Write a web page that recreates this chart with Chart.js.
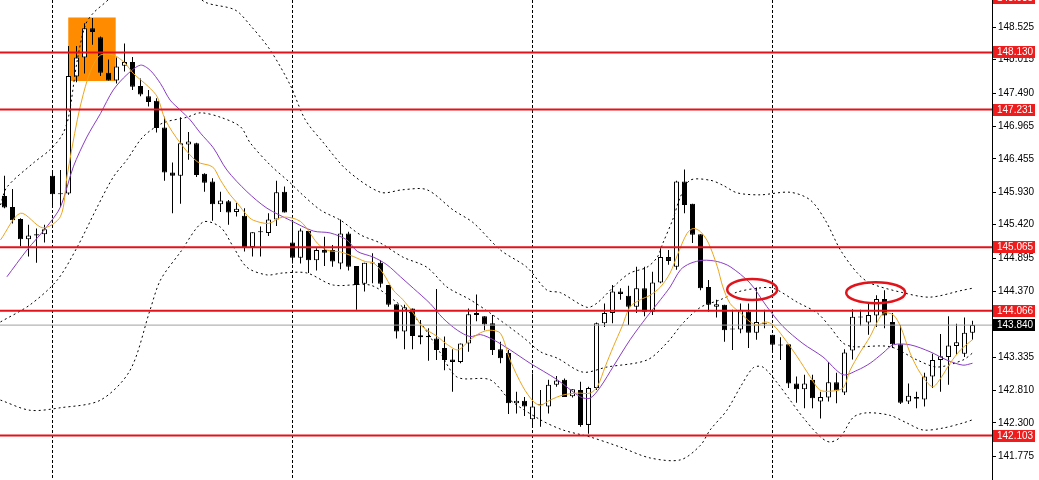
<!DOCTYPE html>
<html>
<head>
<meta charset="utf-8">
<script src="https://cdn.jsdelivr.net/npm/chart.js@4.4.1/dist/chart.umd.min.js"></script>
<style>
  html, body { margin: 0; padding: 0; background: #fff; }
  canvas { display: block; }
</style>
</head>
<body>
<canvas id="c" width="1039" height="480"></canvas>
<script>
// candles (oldest first)
const opens = [145.87,145.70,145.51,145.19,145.27,145.27,146.19,145.91,145.91,147.75,
  148.05,148.51,148.37,147.81,147.69,147.92,147.98,147.60,147.44,147.37,
  146.95,146.24,146.19,146.68,146.70,146.22,146.10,145.74,145.79,145.62,
  145.56,145.07,145.30,145.29,145.50,145.94,145.14,144.90,145.32,144.86,
  145.02,145.02,144.81,145.28,144.77,144.49,144.82,144.82,144.47,144.17,
  143.74,144.10,143.68,143.67,143.63,143.48,143.30,143.26,143.55,144.03,
  143.98,143.87,143.46,143.40,142.61,142.65,142.36,142.58,142.56,142.90,
  142.98,142.72,142.82,142.27,142.85,143.87,144.03,144.37,144.30,144.13,
  144.42,144.05,144.51,144.91,144.76,146.10,145.75,145.27,144.44,144.13,
  144.16,143.78,143.77,144.05,143.72,143.86,143.69,143.53,143.54,142.92,
  142.83,142.98,142.64,142.70,142.94,142.78,143.44,143.97,143.88,143.99,
  144.25,143.89,143.54,142.64,142.71,142.67,143.03,143.29,143.34,143.51,
  143.39,143.72];
const highs = [146.19,145.98,145.52,145.42,145.36,145.42,146.28,146.28,148.23,148.23,
  148.59,148.67,148.38,148.02,148.05,148.27,148.06,147.72,147.54,147.41,
  147.12,146.40,147.11,146.88,146.71,146.23,146.15,145.94,145.81,145.76,
  145.68,145.30,145.39,145.60,146.11,146.02,145.47,145.36,145.32,145.05,
  145.23,145.10,145.50,145.31,144.77,144.82,144.97,144.86,144.47,144.17,
  144.16,144.10,143.92,143.79,144.41,143.66,143.46,143.55,144.10,144.32,
  143.98,144.00,143.58,143.45,142.79,142.71,143.08,142.82,142.98,143.04,
  143.00,142.83,142.95,142.87,143.88,144.18,144.47,144.42,144.46,144.76,
  144.76,144.68,145.05,145.02,146.11,146.29,145.75,145.27,144.55,144.24,
  144.16,144.08,144.18,144.18,144.43,144.08,143.69,143.65,143.54,143.03,
  143.06,143.06,142.79,143.26,143.09,143.46,144.09,144.08,144.18,144.31,
  144.39,144.03,143.84,142.92,142.79,143.09,143.39,143.70,143.98,143.86,
  143.96,143.91];
const lows = [145.68,145.44,145.08,144.92,144.82,145.14,145.70,145.70,145.89,147.66,
  147.80,148.25,147.76,147.69,147.64,147.83,147.54,147.44,147.28,146.87,
  146.11,145.60,145.75,146.44,146.17,145.94,145.48,145.62,145.42,145.55,
  145.00,144.92,144.92,145.24,145.40,145.61,144.81,144.81,144.66,144.70,
  144.77,144.76,144.72,144.70,144.08,144.37,144.50,144.43,144.13,143.63,
  143.46,143.46,143.54,143.28,143.29,143.13,142.79,143.24,143.42,143.90,
  143.76,143.37,143.24,142.44,142.45,142.41,142.22,142.24,142.45,142.87,
  142.71,142.70,142.24,142.13,142.82,143.81,143.87,144.24,143.84,144.03,
  143.98,144.00,144.50,144.79,144.71,145.60,145.13,144.39,144.05,143.96,
  143.58,143.45,143.71,143.48,143.61,143.79,143.45,143.29,142.85,142.62,
  142.53,142.53,142.37,142.64,142.61,142.74,143.30,143.83,143.69,143.81,
  143.79,143.48,142.60,142.60,142.53,142.56,142.85,142.79,142.90,143.37,
  143.34,143.61];
const closes = [145.69,145.49,145.19,145.25,145.25,145.35,145.90,145.90,147.76,148.05,
  148.51,148.45,147.81,147.69,147.91,147.98,147.59,147.47,147.35,146.94,
  146.24,146.19,146.70,146.73,146.20,146.08,145.74,145.80,145.61,145.67,
  145.07,145.30,145.31,145.50,145.93,145.61,144.90,145.33,144.86,145.02,
  144.98,144.84,145.28,144.76,144.47,144.82,144.81,144.49,144.16,143.74,
  144.12,143.67,143.65,143.65,143.45,143.29,143.26,143.55,144.01,144.00,
  143.85,143.45,143.32,142.61,142.65,142.56,142.56,142.59,142.90,142.97,
  142.71,142.83,142.27,142.85,143.87,144.03,144.37,144.33,144.13,144.42,
  144.05,144.51,144.91,144.85,146.10,145.73,145.26,144.42,144.16,144.17,
  143.76,143.77,144.08,143.72,143.89,143.87,143.53,143.52,142.92,142.83,
  142.92,142.69,142.71,142.94,142.81,143.41,143.97,143.96,144.00,144.25,
  143.99,143.54,142.62,142.73,142.68,143.03,143.29,143.35,143.52,143.57,
  143.72,143.84];

// indicator lines, [bar index, price]
const fastMA = [[-0.5,145.18],[2,145.60],[4.8,145.37],[7,145.55],[7.8,146.17],[9.1,147.07],[10.1,147.59],[11,147.91],[12,148.09],[13.6,148.09],[15,147.97],[16.1,147.80],[18,147.59],[19.1,147.43],[20.1,147.07],[22,146.70],[24.1,146.41],[26,146.33],[27,146.12],[28.2,145.89],[29.1,145.76],[30.3,145.57],[31.1,145.49],[33,145.44],[34.8,145.54],[37,145.47],[39.1,145.13],[40.3,145.02],[42,144.99],[43.6,144.92],[45.1,144.84],[46.1,144.82],[47.3,144.66],[48.6,144.39],[49.8,144.24],[51.1,144.03],[52.2,143.82],[54.1,143.66],[55.4,143.53],[56.7,143.45],[58.2,143.61],[59.5,143.72],[60.7,143.76],[62,143.71],[63.2,143.29],[64.8,142.87],[66.1,142.64],[67,142.58],[68.2,142.66],[69.8,142.74],[71.6,142.77],[73.2,142.77],[74.1,142.87],[75.1,143.19],[76.1,143.50],[77.2,143.82],[78.2,144.13],[79.5,144.24],[80.7,144.31],[82,144.44],[83.2,144.66],[84.2,144.97],[85.3,145.28],[86.1,145.36],[87,145.31],[88,145.13],[89.1,144.76],[89.8,144.44],[90.7,144.18],[92,144.03],[93.2,143.89],[94.1,143.84],[95.1,143.89],[96.1,143.84],[97.3,143.66],[99.1,143.34],[100.7,143.03],[101.9,142.82],[103.2,142.80],[104.8,142.85],[105.7,143.13],[106.9,143.40],[108.2,143.66],[109.1,143.89],[109.9,144.03],[111.1,144.00],[112,143.82],[113.2,143.40],[114.5,143.08],[116,142.87],[117,143.00],[118.2,143.24],[119.5,143.45],[121,143.61]];
const slowMA = [[0.3,144.60],[2.8,145.02],[5.3,145.39],[7,145.70],[8.6,146.33],[10.3,146.80],[12,147.17],[13.6,147.54],[15.3,147.78],[17,147.93],[18.2,147.85],[19.5,147.64],[20.7,147.38],[22,147.22],[23.2,147.07],[24.5,146.86],[26.1,146.63],[27.8,146.28],[30.3,145.94],[32.8,145.68],[35.7,145.49],[38.6,145.32],[40.7,145.29],[42.8,145.18],[44.1,145.00],[46.1,144.91],[47.8,144.79],[49.5,144.60],[51.1,144.42],[53.2,144.18],[54.8,143.95],[56.6,143.76],[58.2,143.66],[59.5,143.69],[61.1,143.61],[63.2,143.45],[65.7,143.24],[69.1,142.98],[72,142.71],[73.2,142.69],[74.5,142.87],[76.1,143.19],[78.2,143.61],[80.3,143.97],[82,144.24],[83.2,144.44],[84.5,144.71],[85.7,144.81],[87.3,144.86],[89.1,144.84],[90.7,144.76],[93.2,144.50],[95.3,144.13],[97.3,143.82],[99.8,143.55],[102.3,143.34],[104.8,143.06],[106.6,143.13],[108.2,143.24],[109.8,143.40],[111.1,143.53],[113.2,143.53],[115.7,143.42],[117.8,143.29],[119.8,143.21],[121,143.24]];
const bandUpper = [[-0.5,145.73],[0.3,146.01],[3.6,146.39],[5.7,146.60],[7.2,146.83],[8,147.11],[9.1,148.01],[10.1,148.56],[11.1,148.75],[13.2,148.99],[15.7,149.43],[19.5,149.58],[23.2,149.14],[25.1,148.92],[28.8,148.80],[30.7,148.56],[33.2,148.17],[35.7,147.62],[37.6,147.07],[39.8,146.72],[42.8,146.28],[47,145.93],[49.8,145.97],[52.8,145.97],[56.1,145.65],[58.6,145.45],[62,145.02],[65.3,144.75],[67.8,144.39],[69.5,144.35],[72.8,144.12],[74.1,144.19],[76.6,144.50],[78.2,144.66],[80.3,144.75],[81.6,144.91],[82.3,145.13],[83.5,145.49],[84.5,145.86],[85.7,146.12],[88.2,146.12],[89.8,146.04],[91.6,145.92],[94.5,145.89],[98.2,145.93],[100.7,145.81],[102.6,145.49],[104.5,145.02],[106.6,144.66],[108.2,144.50],[112.3,144.35],[115.7,144.28],[119.8,144.39],[121,144.42]];
const bandMid = [[-0.5,143.89],[3.2,144.16],[6.6,144.55],[9.1,145.07],[11.6,145.70],[13.6,146.17],[15.3,146.44],[17.3,146.80],[19.8,147.02],[22.8,147.11],[24.5,147.18],[27,147.11],[29.5,146.96],[30.7,146.71],[33.2,146.36],[35.7,146.08],[37,145.92],[39.5,145.65],[42,145.49],[44.5,145.26],[47,145.13],[49.8,144.91],[52.8,144.75],[55.3,144.44],[58.2,144.24],[60.7,144.03],[64.8,143.65],[67,143.42],[69.1,143.32],[72.3,143.10],[75.3,143.18],[80.3,143.29],[82.8,143.56],[84.8,143.87],[87,144.12],[89.5,144.24],[91.6,144.36],[94.1,144.42],[96.1,144.42],[99.1,144.20],[101.6,144.03],[103.2,143.81],[104.8,143.56],[106.1,143.50],[110.7,143.50],[114.1,143.29],[116.6,143.18],[119.8,143.29],[121,143.40]];
const bandLower = [[-0.5,142.66],[3.2,142.50],[7,142.54],[12,142.66],[15.7,143.13],[18.2,144.08],[19.5,144.55],[22,144.99],[24.8,145.46],[27,145.38],[28.6,145.07],[30.3,144.75],[32.8,144.63],[34.8,144.66],[37.8,144.66],[41.1,144.47],[45.7,144.47],[48.6,144.24],[52,143.87],[54.5,143.40],[56.6,143.02],[60.7,142.98],[63.2,142.66],[67,142.35],[69.8,142.19],[73.2,142.08],[77,141.92],[80.7,141.75],[84.5,141.72],[87,141.95],[88.2,142.19],[90.3,142.50],[92,142.87],[93.6,143.17],[94.8,143.18],[96.6,142.93],[98.2,142.66],[99.8,142.39],[102,142.08],[103.2,142.00],[104.5,142.08],[106.1,142.39],[107.8,142.46],[110.7,142.42],[112.8,142.30],[114.8,142.19],[117.3,142.22],[119.8,142.30],[121,142.35]];

const levels = [148.130, 147.231, 145.065, 144.066, 142.103];
const topLevel = 148.985;   // label cut off at the top edge
const lastPrice = 143.840;
const yTicks = [148.525,148.015,147.490,146.965,146.455,145.930,145.420,144.895,144.370,143.850,143.335,142.810,142.300,141.775];
const sepBars = [6, 36, 66, 96];
const zone = { from: 7.97, to: 13.9, low: 147.68, high: 148.68 };
const circled = [[93.46, 144.40], [108.9, 144.35]];

const X_MIN = -0.5625, X_MAX = 123.4375;
const Y_MIN = 141.403, Y_MAX = 148.955;

const idx = closes.map((_, i) => i);
const pts = arr => arr.map(p => ({ x: p[0], y: p[1] }));
const flat = v => [{ x: X_MIN, y: v }, { x: X_MAX, y: v }];

function lineDs(data, color, extra) {
  return Object.assign({
    type: 'line', data, borderColor: color, borderWidth: 1,
    pointRadius: 0, fill: false, tension: 0.3
  }, extra || {});
}

const datasets = [];
levels.forEach(v => datasets.push(lineDs(flat(v), '#e3131b', { borderWidth: 2, tension: 0, order: 1 })));
datasets.push(lineDs(flat(lastPrice), '#a0a0a0', { tension: 0, order: 2 }));
datasets.push(lineDs(pts(fastMA), '#eba51e', { order: 3 }));
datasets.push(lineDs(pts(slowMA), '#8a3cc4', { order: 3 }));
[bandUpper, bandMid, bandLower].forEach(b =>
  datasets.push(lineDs(pts(b), '#000', { borderDash: [2, 3], order: 4 })));
datasets.push({
  type: 'bar', order: 5, grouped: false,
  data: idx.map(i => ({ x: i, y: [opens[i], closes[i]] })),
  backgroundColor: idx.map(i => closes[i] >= opens[i] ? '#fff' : '#000'),
  borderColor: '#000', borderWidth: 1, borderSkipped: false,
  barThickness: 5, minBarLength: 1, inflateAmount: 0
});
datasets.push({
  type: 'bar', order: 6, grouped: false,
  data: idx.map(i => ({ x: i, y: [lows[i], highs[i]] })),
  backgroundColor: '#000', borderWidth: 0, barThickness: 1, inflateAmount: 0
});

const decor = {
  id: 'decor',
  beforeDatasetsDraw(chart) {
    const { ctx, scales: { x, y } } = chart;
    ctx.save();
    ctx.fillStyle = '#ff8c00';
    const x1 = x.getPixelForValue(zone.from), x2 = x.getPixelForValue(zone.to);
    const y1 = y.getPixelForValue(zone.high), y2 = y.getPixelForValue(zone.low);
    ctx.fillRect(x1, y1, x2 - x1, y2 - y1);
    ctx.restore();
  },
  afterDatasetsDraw(chart) {
    const { ctx, scales: { x, y } } = chart;
    ctx.save();
    ctx.strokeStyle = '#e3131b';
    ctx.lineWidth = 2.5;
    const radii = [[25, 10.5], [29.5, 10.5]];
    circled.forEach((c, k) => {
      ctx.beginPath();
      ctx.ellipse(x.getPixelForValue(c[0]), y.getPixelForValue(c[1]), radii[k][0], radii[k][1], 0, 0, Math.PI * 2);
      ctx.stroke();
    });
    ctx.restore();
  },
  afterDraw(chart) {
    const { ctx, scales: { y }, chartArea } = chart;
    const left = chartArea.right + 1;
    ctx.save();
    ctx.font = '10px "Liberation Sans"';
    ctx.textBaseline = 'middle';
    const tag = (v, bg) => {
      const py = Math.round(y.getPixelForValue(v));
      ctx.fillStyle = bg;
      ctx.fillRect(left, py - 6, 42, 12);
      ctx.fillStyle = '#fff';
      ctx.fillText(v.toFixed(3), left + 4, py + 0.5);
    };
    tag(topLevel, '#ee1c1c');
    levels.forEach(v => tag(v, '#ee1c1c'));
    tag(lastPrice, '#000');
    ctx.restore();
  }
};

Chart.defaults.font.family = '"Liberation Sans", Arial, sans-serif';

new Chart(document.getElementById('c'), {
  type: 'bar',
  data: { datasets },
  options: {
    responsive: false,
    animation: false,
    devicePixelRatio: 1,
    layout: { padding: 0 },
    plugins: { legend: { display: false }, tooltip: { enabled: false } },
    scales: {
      x: {
        type: 'linear', min: X_MIN, max: X_MAX, offset: false,
        afterBuildTicks: s => { s.ticks = sepBars.map(v => ({ value: v })); },
        afterFit: s => { s.height = 0; s.paddingLeft = 0; s.paddingRight = 0; },
        ticks: { display: false },
        grid: { color: '#000', drawTicks: false, lineWidth: 1, offset: false },
        border: { display: false, dash: [3, 2] }
      },
      y: {
        type: 'linear', position: 'right', min: Y_MIN, max: Y_MAX,
        afterBuildTicks: s => { s.ticks = yTicks.map(v => ({ value: v })); },
        afterFit: s => { s.width = 47; s.paddingTop = 0; s.paddingBottom = 0; },
        ticks: { color: '#000', padding: 2, font: { size: 10 }, callback: v => v.toFixed(3) },
        grid: { drawOnChartArea: false, color: '#000', tickLength: 4 },
        border: { display: true, color: '#000' }
      }
    }
  },
  plugins: [decor]
});
</script>
</body>
</html>
